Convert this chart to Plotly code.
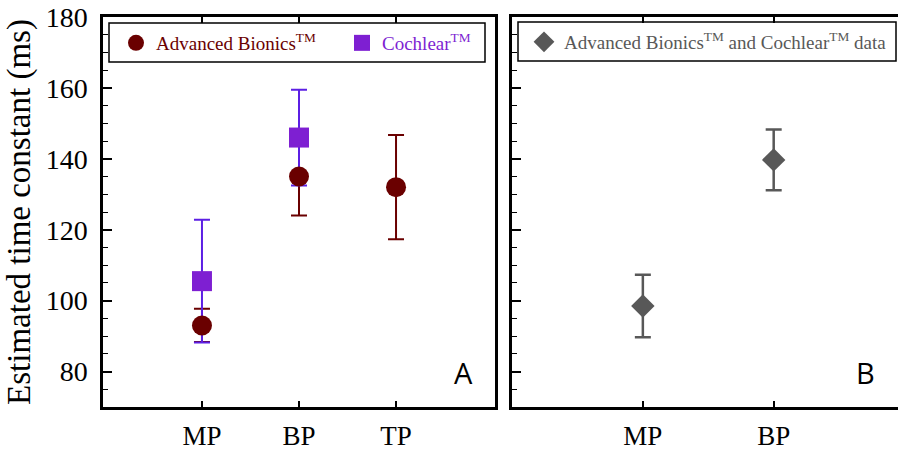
import plotly.graph_objects as go

# Panel A: per-manufacturer estimates (mean ± error, ms)
categories_a = ["MP", "BP", "TP"]
ab_categories = ["MP", "BP", "TP"]
ab_mean = [93, 135, 132]
ab_err = [4.7, 11, 14.7]
co_categories = ["MP", "BP"]
co_mean = [105.5, 146]
co_err = [17.3, 13.5]

# Panel B: pooled estimates
categories_b = ["MP", "BP"]
pooled_mean = [98.5, 139.7]
pooled_err = [8.8, 8.6]

y_ticks = [80, 100, 120, 140, 160, 180]

AB_COLOR = "#6a0000"
CO_COLOR = "#7e1fd2"
CO_ERR_COLOR = "#5c1fe4"
GREY = "#585858"
SERIF = "Liberation Serif"

# plot-area geometry (px) used to place paper-referenced items
L, T, W, H = 103, 17, 795, 390


def px_x(x):
    return (x - L) / W


def px_y(y):
    return 1 - (y - T) / H


pos_a = {c: i + 1 for i, c in enumerate(categories_a)}
pos_b = {c: i + 1 for i, c in enumerate(categories_b)}

fig = go.Figure()

# error bars first so the markers sit on top of the other series' bars
fig.add_trace(go.Scatter(
    x=[pos_a[c] for c in ab_categories], y=ab_mean, mode="markers",
    marker=dict(size=1, color="rgba(0,0,0,0)"),
    error_y=dict(type="data", array=ab_err, color=AB_COLOR, thickness=2, width=8),
    showlegend=False, xaxis="x", yaxis="y", hoverinfo="skip"))
fig.add_trace(go.Scatter(
    x=[pos_a[c] for c in co_categories], y=co_mean, mode="markers",
    marker=dict(size=1, color="rgba(0,0,0,0)"),
    error_y=dict(type="data", array=co_err, color=CO_ERR_COLOR, thickness=2, width=8),
    showlegend=False, xaxis="x", yaxis="y", hoverinfo="skip"))
fig.add_trace(go.Scatter(
    x=[pos_a[c] for c in co_categories], y=co_mean, mode="markers",
    marker=dict(symbol="square", size=20, color=CO_COLOR),
    name=f"<span style='color:{CO_COLOR}'>Cochlear<sup>TM</sup></span>",
    legend="legend", legendrank=2, xaxis="x", yaxis="y"))
fig.add_trace(go.Scatter(
    x=[pos_a[c] for c in ab_categories], y=ab_mean, mode="markers",
    marker=dict(symbol="circle", size=20, color=AB_COLOR),
    name=f"<span style='color:{AB_COLOR}'>Advanced Bionics<sup>TM</sup></span>",
    legend="legend", legendrank=1, xaxis="x", yaxis="y"))

fig.add_trace(go.Scatter(
    x=[pos_b[c] for c in categories_b], y=pooled_mean, mode="markers",
    marker=dict(symbol="diamond", size=18, color=GREY),
    error_y=dict(type="data", array=pooled_err, color=GREY, thickness=2.5, width=8),
    name=f"<span style='color:{GREY}'>Advanced Bionics<sup>TM</sup> and Cochlear<sup>TM</sup> data</span>",
    legend="legend2", xaxis="x2", yaxis="y2"))

axis_common = dict(showline=True, linecolor="black", linewidth=2.5, ticks="inside",
                   tickcolor="black", showgrid=False, zeroline=False)

legend_common = dict(xanchor="left", yanchor="top", orientation="h", borderwidth=0,
                     bgcolor="rgba(0,0,0,0)", font=dict(family=SERIF, size=19),
                     itemsizing="trace")

# legend frames
legend_boxes = [(109, 23, 485, 62), (518, 22, 896, 61)]
shapes = [dict(type="rect", xref="paper", yref="paper",
               x0=px_x(x0), x1=px_x(x1), y0=px_y(y1), y1=px_y(y0),
               line=dict(color="black", width=1.5), fillcolor="rgba(0,0,0,0)")
          for x0, y0, x1, y1 in legend_boxes]

fig.update_layout(
    width=898, height=455,
    margin=dict(l=L, r=898 - L - W, t=T, b=455 - T - H, autoexpand=False),
    plot_bgcolor="white", paper_bgcolor="white",
    xaxis=dict(domain=[0, px_x(495)], range=[-0.02, 4.02],
               tickvals=[pos_a[c] for c in categories_a], ticktext=categories_a,
               mirror="allticks", ticklen=6, tickwidth=1.5,
               tickfont=dict(family=SERIF, size=27, color="black"),
               ticklabelstandoff=3, **axis_common),
    yaxis=dict(domain=[0, 1], range=[70, 180], tickvals=y_ticks,
               mirror=True, ticklen=9, tickwidth=1.5,
               minor=dict(dtick=5, ticklen=5, tickwidth=1.2, ticks="inside", tickcolor="black"),
               tickfont=dict(family=SERIF, size=28, color="black"),
               ticklabelstandoff=7,
               title=dict(text="Estimated time constant (ms)", standoff=6,
                          font=dict(family=SERIF, size=33, color="black")),
               **axis_common),
    xaxis2=dict(domain=[px_x(512), 1], range=[0, 2.95], anchor="y2",
                tickvals=[pos_b[c] for c in categories_b], ticktext=categories_b,
                mirror="allticks", ticklen=6, tickwidth=1.5,
                tickfont=dict(family=SERIF, size=27, color="black"),
                ticklabelstandoff=3, **axis_common),
    yaxis2=dict(domain=[0, 1], range=[70, 180], anchor="x2", tickvals=y_ticks,
                showticklabels=False, mirror=False, ticklen=9, tickwidth=1.5,
                minor=dict(dtick=5, ticklen=5, tickwidth=1.2, ticks="inside", tickcolor="black"),
                **axis_common),
    legend=dict(x=px_x(116), y=px_y(24), entrywidth=181, entrywidthmode="pixels",
                **legend_common),
    legend2=dict(x=px_x(524), y=px_y(23), **legend_common),
    shapes=shapes,
    annotations=[
        dict(text="A", x=px_x(463), y=px_y(372), xref="paper", yref="paper",
             xanchor="center", yanchor="middle", showarrow=False,
             font=dict(family="Open Sans", size=29, color="black")),
        dict(text="B", x=px_x(865), y=px_y(372), xref="paper", yref="paper",
             xanchor="center", yanchor="middle", showarrow=False,
             font=dict(family="Open Sans", size=29, color="black")),
    ],
)

fig.write_html("out.html")
